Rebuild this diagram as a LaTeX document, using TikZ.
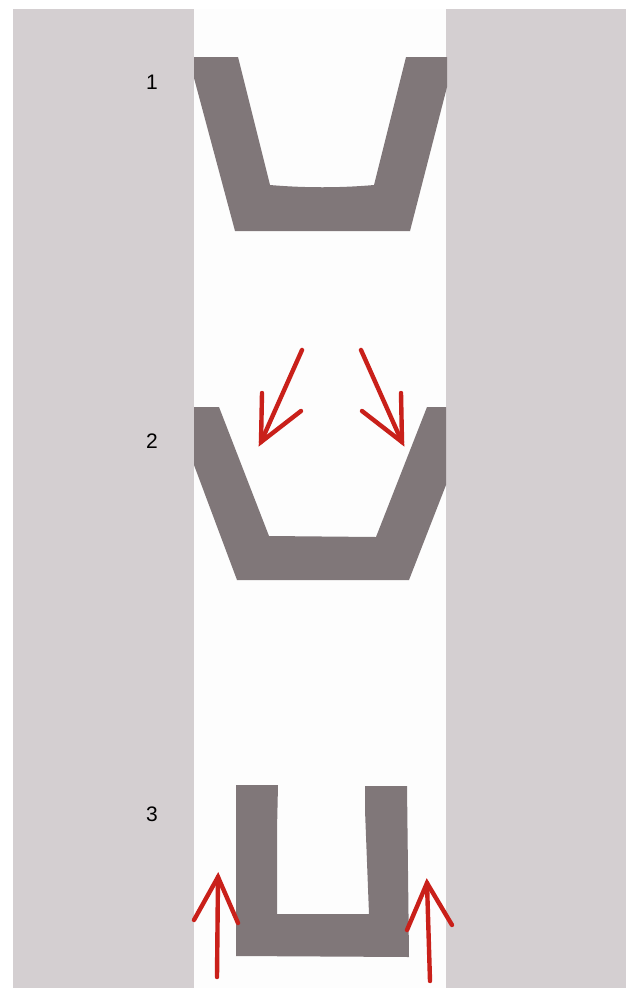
\documentclass[tikz,border=0pt]{standalone}
\usepackage{fontspec}
\setmainfont{Liberation Sans}
\definecolor{sidegray}{HTML}{D4CFD1}
\definecolor{midwhite}{HTML}{FDFDFD}
\definecolor{channel}{HTML}{807779}
\definecolor{arrowred}{HTML}{C9201A}
\tikzset{
  profile/.style={fill=channel,draw=none},
  redarrow/.style={draw=arrowred,line width=4.4pt,line cap=round,line join=miter},
  stagelabel/.style={font=\fontsize{21}{21}\selectfont,text=black,inner sep=0pt}
}
\begin{document}
\begin{tikzpicture}[x=1pt,y=-1pt]
\useasboundingbox (0,0) rectangle (626,988);
\fill[white] (0,0) rectangle (626,988);
\fill[sidegray] (13,9) rectangle (194,988);
\fill[sidegray] (446,9) rectangle (626,988);
\fill[midwhite] (194,9) rectangle (446,988);
% stage 1
\path[profile] (194,57) -- (238,57) -- (270,185) .. controls (305,188) and (340,188) .. (374,185) -- (406,57) -- (447,57) -- (447,87) -- (410,231) -- (235,231) -- (194,78) -- cycle;
% stage 2
\path[profile] (194,407) -- (219,407) -- (269,536) -- (376,537) -- (427,407) -- (446,407) -- (446,485) -- (409,580) -- (237,580) -- (194,465) -- cycle;
% stage 3
\path[profile] (236,785) -- (278,785) -- (277,830) -- (277,914) -- (369,914) -- (365,810) -- (365,786) -- (407,786) -- (409,957) -- (236,956) -- cycle;
% labels
\node[stagelabel] (one) at (152,82) {1};
\node[stagelabel] (two) at (152,441) {2};
\node[stagelabel] (three) at (152,814) {3};
% arrows stage 2
\coordinate (la) at (302,350); \coordinate (lt) at (261,442);
\draw[redarrow] (la) -- (lt);
\draw[redarrow] (262,393) -- (lt) -- (301,411);
\coordinate (ra) at (361,350); \coordinate (rt) at (402,442);
\draw[redarrow] (ra) -- (rt);
\draw[redarrow] (401,393) -- (rt) -- (362,411);
% arrows stage 3
\coordinate (ta) at (217,977); \coordinate (tt) at (218,877);
\draw[redarrow] (ta) -- (tt);
\draw[redarrow] (194,920) -- (tt) -- (238,923);
\coordinate (ua) at (430,981); \coordinate (ut) at (427,883);
\draw[redarrow] (ua) -- (ut);
\draw[redarrow] (407,930) -- (ut) -- (452,925);
\end{tikzpicture}
\end{document}
